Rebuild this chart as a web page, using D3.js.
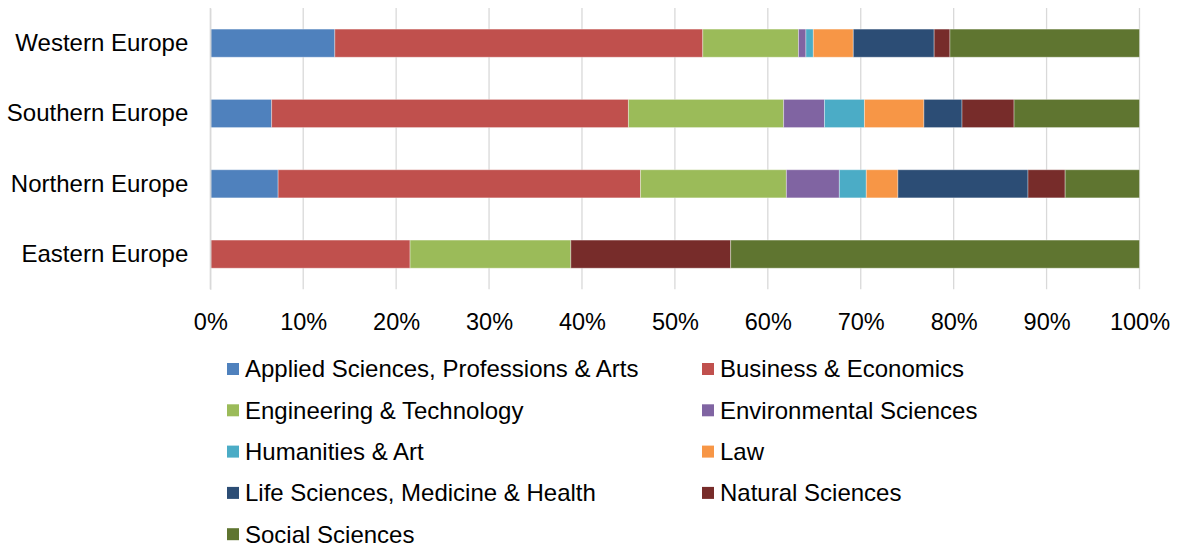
<!DOCTYPE html>
<html>
<head>
<meta charset="utf-8">
<script src="https://cdn.jsdelivr.net/npm/d3@7"></script>
<style>
  body { margin: 0; background: #fff; }
  text { font-family: "Liberation Sans", Arial, sans-serif; fill: #000; }
</style>
</head>
<body>
<div id="chart"></div>
<script>
// Regions (top to bottom)
var regions = ["Western Europe", "Southern Europe", "Northern Europe", "Eastern Europe"];

// Subject areas (stack order, left to right)
var subjects = [
  "Applied Sciences, Professions & Arts",
  "Business & Economics",
  "Engineering & Technology",
  "Environmental Sciences",
  "Humanities & Art",
  "Law",
  "Life Sciences, Medicine & Health",
  "Natural Sciences",
  "Social Sciences"
];

// Share (%) per region, one array per subject
var appliedSciences = [13.4, 6.6, 7.3, 0];
var businessEconomics = [39.6, 38.4, 39.0, 21.5];
var engineeringTech = [10.3, 16.7, 15.7, 17.3];
var environmentalSci = [0.8, 4.4, 5.7, 0];
var humanitiesArt = [0.8, 4.3, 2.9, 0];
var law = [4.3, 6.4, 3.4, 0];
var lifeSciences = [8.7, 4.1, 14.0, 0];
var naturalSciences = [1.7, 5.6, 4.0, 17.2];
var socialSciences = [20.4, 13.5, 8.0, 44.0];

// Axis ticks
var xTicks = [0, 10, 20, 30, 40, 50, 60, 70, 80, 90, 100];

var colors = ["#4F81BD", "#C0504D", "#9BBB59", "#8064A2", "#4BACC6",
              "#F79646", "#2C4D75", "#772C2A", "#5F7530"];

var seriesValues = [appliedSciences, businessEconomics, engineeringTech, environmentalSci,
                    humanitiesArt, law, lifeSciences, naturalSciences, socialSciences];

// Build table for d3.stack
var table = regions.map(function(r, i) {
  var row = { region: r };
  subjects.forEach(function(s, j) { row[s] = seriesValues[j][i]; });
  return row;
});

var svgWidth = 1177;
var svgHeight = 547;
var fontSize = 24;
var tickFontSize = 23.5;

var svg = d3.select("#chart")
  .append("svg")
  .attr("width", svgWidth)
  .attr("height", svgHeight);

var plot = { left: 210.3, right: 1139.5, top: 8, bottom: 289.3 };

var xScale = d3.scaleLinear()
  .domain([0, 100])
  .range([plot.left, plot.right]);

var yScale = d3.scaleBand()
  .domain(regions)
  .range([plot.top, plot.bottom])
  .paddingInner(0.6)
  .paddingOuter(0.3);

var colorScale = d3.scaleOrdinal().domain(subjects).range(colors);

// Gridlines
svg.append("g")
  .selectAll("line")
  .data(xTicks)
  .enter()
  .append("line")
  .attr("x1", d => xScale(d))
  .attr("x2", d => xScale(d))
  .attr("y1", plot.top)
  .attr("y2", plot.bottom)
  .attr("stroke", "#d9d9d9")
  .attr("stroke-width", 1.3);

// Stacked bars
var stacked = d3.stack().keys(subjects)(table);

svg.append("g")
  .selectAll("g")
  .data(stacked)
  .enter()
  .append("g")
  .attr("fill", d => colorScale(d.key))
  .selectAll("rect")
  .data(d => d.filter(p => p[1] - p[0] > 0))
  .enter()
  .append("rect")
  .attr("x", d => xScale(d[0]))
  .attr("width", d => xScale(d[1]) - xScale(d[0]))
  .attr("y", d => yScale(d.data.region))
  .attr("height", yScale.bandwidth())
  .attr("stroke", "rgba(255,255,255,0.35)")
  .attr("stroke-width", 1);

// X axis labels
var xAxis = d3.axisBottom(xScale)
  .tickValues(xTicks)
  .tickFormat(d => d + "%")
  .tickSize(0)
  .tickPadding(0);

var xAxisGroup = svg.append("g")
  .attr("transform", `translate(0, ${plot.bottom})`)
  .call(xAxis);
xAxisGroup.select(".domain").remove();
xAxisGroup.selectAll("text")
  .attr("y", 32)
  .attr("dy", "0.35em")
  .style("font-size", tickFontSize + "px")
  .style("font-family", "'Liberation Sans', Arial, sans-serif")
  .attr("fill", "#000");

// Y axis labels
var yAxis = d3.axisLeft(yScale).tickSize(0).tickPadding(22);
var yAxisGroup = svg.append("g")
  .attr("transform", `translate(${plot.left}, 0)`)
  .call(yAxis);
yAxisGroup.select(".domain")
  .attr("stroke", "#d9d9d9")
  .attr("stroke-width", 1.3);
yAxisGroup.selectAll("text")
  .style("font-size", fontSize + "px")
  .style("font-family", "'Liberation Sans', Arial, sans-serif")
  .attr("fill", "#000");

// Legend (two columns)
var legendCols = [227, 702];
var legendTop = 369;
var legendStep = 41.3;

var legend = svg.append("g")
  .selectAll("g")
  .data(subjects)
  .enter()
  .append("g")
  .attr("transform", (d, i) =>
    `translate(${legendCols[i % 2]}, ${legendTop + Math.floor(i / 2) * legendStep})`);

legend.append("rect")
  .attr("x", 0)
  .attr("y", -6)
  .attr("width", 12)
  .attr("height", 12)
  .attr("fill", d => colorScale(d));

legend.append("text")
  .attr("x", 18)
  .attr("y", 0)
  .attr("dy", "0.35em")
  .style("font-size", fontSize + "px")
  .text(d => d);
</script>
</body>
</html>
